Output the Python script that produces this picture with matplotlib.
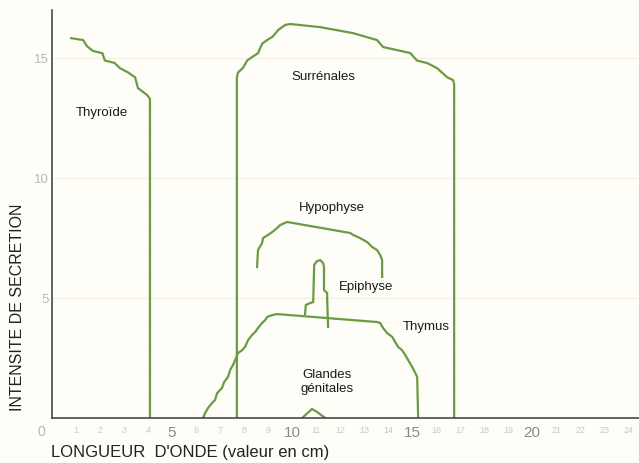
import matplotlib.pyplot as plt

plt.rcParams['font.family'] = ['Liberation Sans', 'DejaVu Sans']

# courbes (longueur d'onde en cm, intensite)
thyroide_x = [0.8, 1.3, 1.45, 1.7, 2.1, 2.2, 2.6, 2.83, 3.17, 3.46, 3.58, 3.96, 4.08, 4.08]
thyroide_y = [15.83, 15.75, 15.5, 15.3, 15.2, 14.9, 14.8, 14.58, 14.4, 14.2, 13.75, 13.46, 13.3, 0]

surrenales_x = [7.7, 7.7, 7.75, 7.96, 8.13, 8.33, 8.58, 8.75, 8.96, 9.2, 9.42, 9.71, 9.92,
                11.17, 12.54, 13.54, 13.79, 14.38, 14.92, 15.2, 15.63, 16.04, 16.46, 16.71, 16.75, 16.75]
surrenales_y = [0, 14.2, 14.4, 14.6, 14.9, 15.04, 15.2, 15.6, 15.75, 15.9, 16.17, 16.38, 16.42,
                16.29, 16.04, 15.75, 15.46, 15.33, 15.21, 14.9, 14.79, 14.58, 14.2, 14.08, 13.9, 0]

hypophyse_x = [8.54, 8.58, 8.75, 8.79, 9.0, 9.17, 9.38, 9.5, 9.79,
               12.42, 12.54, 12.83, 13.13, 13.33, 13.54, 13.67, 13.75, 13.75]
hypophyse_y = [6.29, 7.0, 7.29, 7.5, 7.63, 7.75, 7.92, 8.04, 8.17,
               7.71, 7.63, 7.5, 7.33, 7.13, 7.0, 6.79, 6.58, 5.88]

epiphyse_x = [10.54, 10.57, 10.75, 10.88, 10.92, 11.04, 11.17, 11.29, 11.33, 11.33, 11.46, 11.46, 11.5]
epiphyse_y = [4.33, 4.71, 4.79, 4.83, 6.38, 6.54, 6.58, 6.46, 6.29, 5.33, 5.21, 5.0, 3.79]

thymus_x = [6.29, 6.38, 6.5, 6.67, 6.79, 6.88, 7.08, 7.17, 7.33, 7.42, 7.54, 7.63, 7.75, 7.92,
            8.04, 8.17, 8.33, 8.46, 8.58, 8.75, 8.88, 8.96, 9.17, 9.38,
            13.54, 13.67, 13.79, 13.96, 14.17, 14.29, 14.42, 14.58, 14.71, 14.83, 15.0, 15.13,
            15.21, 15.25]
thymus_y = [0, 0.21, 0.42, 0.63, 0.75, 1.04, 1.25, 1.5, 1.71, 2.0, 2.21, 2.42, 2.71, 2.83,
            2.96, 3.25, 3.46, 3.58, 3.75, 3.96, 4.08, 4.21, 4.29, 4.33,
            4.0, 3.96, 3.75, 3.54, 3.38, 3.17, 2.96, 2.83, 2.63, 2.42, 2.13, 1.88,
            1.71, 0]

genitales_x = [10.42, 10.83, 11.04, 11.38]
genitales_y = [0, 0.38, 0.25, 0]

labels = ['Thyroïde', 'Surrénales', 'Hypophyse', 'Epiphyse', 'Thymus', 'Glandes\ngénitales']
label_x = [2.08, 11.3, 11.67, 13.1, 15.6, 11.46]
label_y = [12.7, 14.2, 8.75, 5.46, 3.8, 1.5]

x_ticks = list(range(1, 25))
y_ticks = [5, 10, 15]

green = '#6b9a45'
fig = plt.figure(figsize=(6.39, 4.63), dpi=100)
fig.patch.set_facecolor('#fefdf8')
ax = fig.add_axes([0.0814, 0.0972, 0.9186, 0.881])
ax.set_facecolor('#fefdf8')

for xs, ys in [(thyroide_x, thyroide_y), (surrenales_x, surrenales_y),
               (hypophyse_x, hypophyse_y), (epiphyse_x, epiphyse_y),
               (thymus_x, thymus_y), (genitales_x, genitales_y)]:
    ax.plot(xs, ys, color=green, lw=1.6, solid_joinstyle='round')

for lab, lx, ly in zip(labels, label_x, label_y):
    ax.text(lx, ly, lab, ha='center', va='center', fontsize=9.5, color='#1a1a1a')

ax.set_xlim(0, 24.45)
ax.set_ylim(0, 17)

# papier quadrille tres pale
ax.set_xticks(x_ticks)
ax.set_yticks(y_ticks)
ax.set_xticks([v for v in range(0, 25)], minor=True)
ax.set_yticks([v for v in range(0, 18)], minor=True)
ax.grid(which='minor', color='#faf9ef', lw=0.6)
ax.grid(which='major', axis='y', color='#f3f2e2', lw=0.9)
ax.set_axisbelow(True)

ax.set_xticklabels([str(t) for t in x_ticks])
for t, lab in zip(x_ticks, ax.get_xticklabels()):
    if t % 5 == 0:
        lab.set_fontsize(11)
        lab.set_color('#8a8a8a')
    else:
        lab.set_fontsize(6.5)
        lab.set_color('#c8c8c8')
ax.set_yticklabels([str(t) for t in y_ticks], fontsize=9.5, color='#b8b8b8')
ax.tick_params(axis='both', which='both', length=0)
ax.tick_params(axis='x', pad=6)
ax.tick_params(axis='y', pad=2)
ax.text(-0.46, -0.58, '0', ha='center', va='center', fontsize=10, color='#b8b8b8', clip_on=False)

for s in ['top', 'right']:
    ax.spines[s].set_visible(False)
for s in ['left', 'bottom']:
    ax.spines[s].set_color('#3a3a3a')
    ax.spines[s].set_linewidth(1.1)

ax.text(-0.05, -1.45, "LONGUEUR  D'ONDE (valeur en cm)", ha='left', va='center',
        fontsize=12, color='#222222', clip_on=False)
ax.text(-1.42, 4.6, 'INTENSITE DE SECRETION', rotation=90, ha='center', va='center',
        fontsize=11.5, color='#222222', clip_on=False)

fig.savefig('out.png', dpi=100, facecolor=fig.get_facecolor())
